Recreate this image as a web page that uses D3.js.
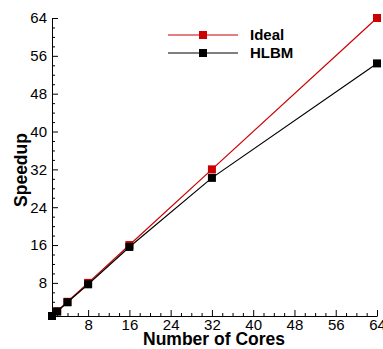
<!DOCTYPE html>
<html>
<head>
<meta charset="utf-8">
<script src="https://cdn.jsdelivr.net/npm/d3@7"></script>
<style>
  body { margin: 0; background: #fff; }
  svg { display: block; font-family: "Liberation Sans", Arial, Helvetica, sans-serif; }
  .tick text { font-size: 15px; fill: #000; }
  .axis-title { font-size: 17.5px; font-weight: bold; }
  .legend-label { font-size: 15px; font-weight: bold; }
</style>
</head>
<body>
<svg id="chart" width="383" height="349"></svg>
<script>
// cores on the x axis, speedup per series
const cores = [1, 2, 4, 8, 16, 32, 64];
const idealSpeedup = [1, 2, 4, 8, 16, 32, 64];
const hlbmSpeedup = [1, 1.95, 3.9, 7.7, 15.6, 30.2, 54.4];
const majorTicks = [8, 16, 24, 32, 40, 48, 56, 64];
const minorTicks = d3.range(2, 64, 2).filter((v) => v % 8 !== 0);

const SERIES = [
  { label: 'Ideal', values: idealSpeedup, color: '#cc0000' },
  { label: 'HLBM', values: hlbmSpeedup, color: '#000000' },
];

const svg = d3.select('#chart');
const margin = { top: 18, right: 6, bottom: 33, left: 52 };
const width = 383 - margin.left - margin.right;
const height = 349 - margin.top - margin.bottom;
const g = svg.append('g').attr('transform', `translate(${margin.left},${margin.top})`);

const x = d3.scaleLinear().domain([1, 64]).range([0, width]);
const y = d3.scaleLinear().domain([1, 64]).range([height, 0]);

// minor ticks first, then labelled major ticks (both pointing inward)
g.append('g')
  .attr('transform', `translate(0,${height})`)
  .call(d3.axisBottom(x).tickValues(minorTicks).tickSize(-3).tickFormat(''))
  .call((a) => a.select('.domain').remove());
g.append('g')
  .call(d3.axisLeft(y).tickValues(minorTicks).tickSize(-3).tickFormat(''))
  .call((a) => a.select('.domain').remove());

const xAxis = g.append('g')
  .attr('transform', `translate(0,${height})`)
  .call(d3.axisBottom(x).tickValues(majorTicks).tickSize(-6).tickSizeOuter(0).tickPadding(3));
xAxis.selectAll('.tick text').attr('y', 3).attr('dy', '0.71em');

g.append('g')
  .call(d3.axisLeft(y).tickValues(majorTicks).tickSize(-6).tickSizeOuter(0).tickPadding(5));

g.selectAll('.domain, .tick line').attr('stroke', '#000');

const line = d3.line()
  .x((d, i) => x(cores[i]))
  .y((d) => y(d));

SERIES.forEach((s) => {
  g.append('path')
    .datum(s.values)
    .attr('fill', 'none')
    .attr('stroke', s.color)
    .attr('stroke-width', 1.2)
    .attr('d', line);

  g.selectAll(null)
    .data(s.values)
    .join('rect')
    .attr('x', (d, i) => x(cores[i]) - 4)
    .attr('y', (d) => y(d) - 4)
    .attr('width', 8)
    .attr('height', 8)
    .attr('fill', s.color);
});

// legend
const legend = svg.append('g').attr('transform', 'translate(168,35)');
SERIES.forEach((s, i) => {
  const item = legend.append('g').attr('transform', `translate(0,${i * 18})`);
  item.append('line').attr('x1', 0).attr('x2', 70).attr('stroke', s.color).attr('stroke-width', 1.2);
  item.append('rect').attr('x', 31).attr('y', -4).attr('width', 8).attr('height', 8).attr('fill', s.color);
  item.append('text')
    .attr('class', 'legend-label')
    .attr('x', 82)
    .attr('dy', '0.35em')
    .text(s.label);
});

svg.append('text')
  .attr('class', 'axis-title')
  .attr('text-anchor', 'middle')
  .attr('x', 214)
  .attr('y', 345)
  .text('Number of Cores');

svg.append('text')
  .attr('class', 'axis-title')
  .attr('text-anchor', 'middle')
  .attr('transform', 'translate(27,170) rotate(-90)')
  .text('Speedup');
</script>
</body>
</html>
